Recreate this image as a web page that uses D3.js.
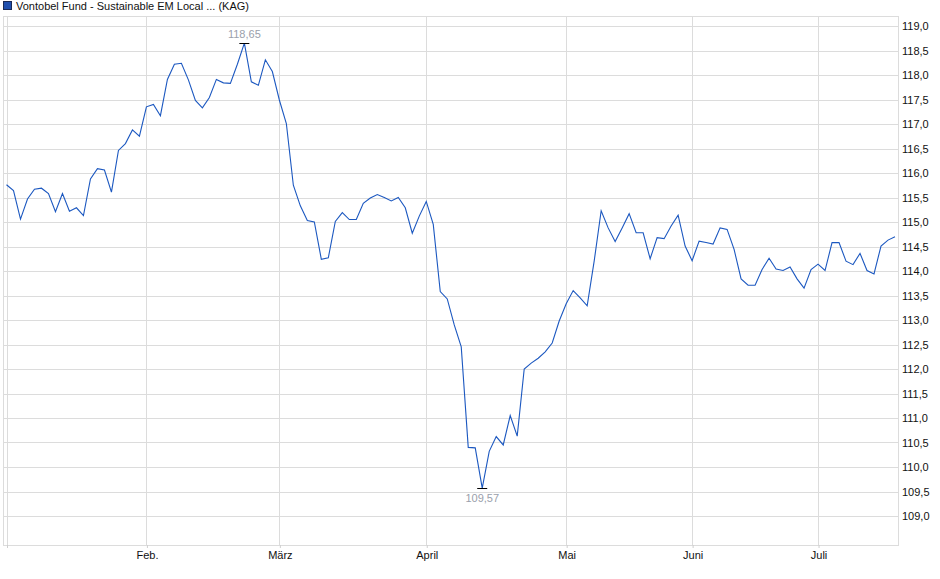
<!DOCTYPE html>
<html>
<head>
<meta charset="utf-8">
<script src="https://cdn.jsdelivr.net/npm/d3@7"></script>
<style>
  body { margin: 0; background: #fff; }
  svg { display: block; font-family: "Liberation Sans", Arial, sans-serif; }
</style>
</head>
<body>
<svg id="chart" width="940" height="579"></svg>
<script>
const seriesName = "Vontobel Fund - Sustainable EM Local ... (KAG)";
// one value per trading day
const prices = [
  115.76, 115.64, 115.06, 115.47, 115.67, 115.69, 115.58, 115.21, 115.58, 115.22,
  115.29, 115.13, 115.88, 116.09, 116.06, 115.61, 116.46, 116.60, 116.88, 116.75,
  117.35, 117.40, 117.17, 117.91, 118.22, 118.24, 117.90, 117.48, 117.33, 117.54,
  117.91, 117.84, 117.83, 118.22, 118.65, 117.86, 117.79, 118.31, 118.07, 117.49,
  117.01, 115.75, 115.33, 115.03, 115.00, 114.24, 114.27, 115.01, 115.19, 115.05,
  115.05, 115.38, 115.49, 115.56, 115.50, 115.43, 115.50, 115.29, 114.77, 115.12,
  115.42, 114.95, 113.58, 113.43, 112.90, 112.45, 110.40, 110.39, 109.57, 110.32,
  110.62, 110.45, 111.05, 110.63, 112.00, 112.12, 112.22, 112.35, 112.53, 112.98,
  113.33, 113.60, 113.45, 113.29, 114.20, 115.23, 114.88, 114.60, 114.88, 115.17,
  114.78, 114.78, 114.25, 114.68, 114.66, 114.92, 115.14, 114.51, 114.21, 114.61,
  114.58, 114.55, 114.88, 114.85, 114.44, 113.84, 113.71, 113.71, 114.03, 114.26,
  114.04, 114.01, 114.08, 113.84, 113.65, 114.03, 114.14, 114.01, 114.58, 114.58,
  114.20, 114.13, 114.36, 114.01, 113.94, 114.51, 114.63, 114.70
];
const monthLabels = ["", "Feb.", "März", "April", "Mai", "Juni", "Juli"];
const monthIndex = [0, 20, 39, 60, 80, 98, 116];
const yTicks = d3.range(109, 119.001, 0.5);

const svg = d3.select("#chart");
const plot = { left: 3, right: 898, top: 16, bottom: 545 };
const fmt = (v) => d3.format(".1f")(v).replace(".", ",");
const fmt2 = (v) => d3.format(".2f")(v).replace(".", ",");

const x = d3.scaleLinear().domain([0, prices.length - 1]).range([6.5, 895]);
const y = d3.scaleLinear().domain([109, 119]).range([516, 26]);

// frame + grid
const grid = svg.append("g").attr("stroke", "#dcdcdc").attr("shape-rendering", "crispEdges");
grid.selectAll(".hg")
  .data(yTicks)
  .enter()
  .append("line")
  .attr("x1", plot.left)
  .attr("x2", plot.right)
  .attr("y1", (d) => Math.round(y(d)) + 0.5)
  .attr("y2", (d) => Math.round(y(d)) + 0.5);
grid.selectAll(".vg")
  .data(monthIndex)
  .enter()
  .append("line")
  .attr("x1", (d) => Math.round(x(d)) + 0.5)
  .attr("x2", (d) => Math.round(x(d)) + 0.5)
  .attr("y1", plot.top)
  .attr("y2", plot.bottom);
grid.append("rect")
  .attr("x", plot.left + 0.5)
  .attr("y", plot.top + 0.5)
  .attr("width", plot.right - plot.left)
  .attr("height", plot.bottom - plot.top)
  .attr("fill", "none");

// y axis on the right
const yAxis = d3.axisRight(y).tickValues(yTicks).tickFormat(fmt).tickSize(0).tickPadding(4);
const gy = svg.append("g").attr("transform", `translate(${plot.right},0)`).call(yAxis);
gy.select(".domain").remove();
gy.selectAll("text").attr("font-size", 11).attr("fill", "#111").attr("font-family", "Liberation Sans, Arial, sans-serif");

// x axis: month starts
const xAxis = d3.axisBottom(x)
  .tickValues(monthIndex)
  .tickFormat((d, i) => monthLabels[i])
  .tickSize(3)
  .tickPadding(3);
const gx = svg.append("g").attr("transform", `translate(0.5,${plot.bottom})`).call(xAxis);
gx.select(".domain").remove();
gx.selectAll("line").attr("stroke", "#cfcfcf");
gx.selectAll("text").attr("font-size", 11).attr("fill", "#111").attr("font-family", "Liberation Sans, Arial, sans-serif");

// price line
const line = d3.line().x((d, i) => x(i)).y((d) => y(d));
svg.append("path")
  .datum(prices)
  .attr("d", line)
  .attr("fill", "none")
  .attr("stroke", "#1c58c0")
  .attr("stroke-width", 1.1);

// high / low markers
const hi = d3.maxIndex(prices);
const lo = d3.minIndex(prices);
[[hi, -1], [lo, 1]].forEach(([i, dir]) => {
  const px = x(i), py = y(prices[i]);
  svg.append("line")
    .attr("x1", px - 5).attr("x2", px + 5)
    .attr("y1", Math.round(py) + 0.5).attr("y2", Math.round(py) + 0.5)
    .attr("stroke", "#000").attr("stroke-width", 1);
  svg.append("text")
    .attr("x", px)
    .attr("y", dir < 0 ? py - 5 : py + 14)
    .attr("text-anchor", "middle")
    .attr("font-size", 11)
    .attr("fill", "#9aa0ab")
    .text(fmt2(prices[i]));
});

// legend
svg.append("rect")
  .attr("x", 3.5).attr("y", 1.5).attr("width", 8).attr("height", 8)
  .attr("fill", "#1f4fae").attr("stroke", "#1a2a55");
svg.append("text")
  .attr("x", 16).attr("y", 10)
  .attr("font-size", 11)
  .attr("fill", "#111")
  .text(seriesName);
</script>
</body>
</html>
